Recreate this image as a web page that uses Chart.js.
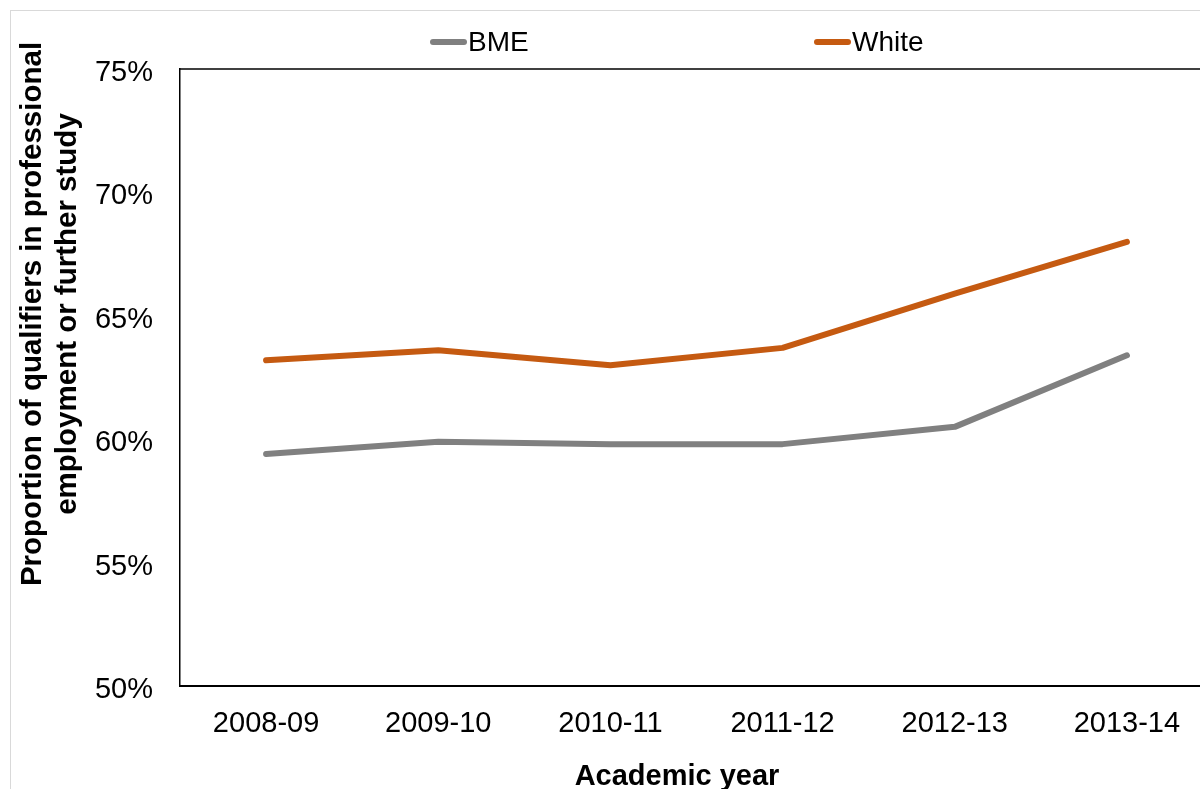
<!DOCTYPE html>
<html>
<head>
<meta charset="utf-8">
<script src="https://cdn.jsdelivr.net/npm/chart.js@4.4.0/dist/chart.umd.min.js"></script>
<style>
  body { margin: 0; overflow: hidden; background: #fff; }
  .frame { position: absolute; left: 10px; top: 10px; width: 1300px; height: 900px; border: 1px solid #d9d9d9; }
  #chart { position: absolute; left: 0; top: 0; }
</style>
</head>
<body>
<div class="frame"></div>
<canvas id="chart" width="1230" height="800"></canvas>
<script>
/*------ DATA ------*/
const years = ["2008-09", "2009-10", "2010-11", "2011-12", "2012-13", "2013-14"];
const bme = [59.4, 59.9, 59.8, 59.8, 60.5, 63.4];
const white = [63.2, 63.6, 63.0, 63.7, 65.9, 68.0];
const yMin = 50;
const yMax = 75;
const yStep = 5;

const FONT = '"Liberation Sans", Arial, sans-serif';

/*------ LEGEND across the top ------*/
const topLegend = {
  id: "topLegend",
  afterDraw(chart) {
    const ctx = chart.ctx;
    ctx.save();
    ctx.font = `28px ${FONT}`;
    ctx.textBaseline = "middle";
    chart.data.datasets.forEach((ds, i) => {
      const x = 430 + i * 384;
      const y = 42;
      ctx.strokeStyle = ds.borderColor;
      ctx.lineWidth = 6;
      ctx.lineCap = "round";
      ctx.beginPath();
      ctx.moveTo(x + 3, y);
      ctx.lineTo(x + 34, y);
      ctx.stroke();
      ctx.fillStyle = "#000";
      ctx.fillText(ds.label, x + 38, y + 1);
    });
    ctx.restore();
  }
};

/*------ axis titles + top edge of plot box ------*/
const frameBits = {
  id: "frameBits",
  beforeDatasetsDraw(chart) {
    const { ctx, chartArea } = chart;
    ctx.save();
    ctx.strokeStyle = "#000";
    ctx.lineWidth = 1.5;
    ctx.beginPath();
    ctx.moveTo(chartArea.left, chartArea.top);
    ctx.lineTo(chartArea.right, chartArea.top);
    ctx.stroke();
    ctx.restore();
  },
  afterDraw(chart) {
    const ctx = chart.ctx;
    ctx.save();
    ctx.fillStyle = "#000";
    ctx.textAlign = "center";
    ctx.textBaseline = "middle";
    ctx.font = `bold 29px ${FONT}`;
    ctx.fillText("Academic year", 677, 777);

    ctx.translate(33, 314);
    ctx.rotate(-Math.PI / 2);
    ctx.font = `bold 29.5px ${FONT}`;
    ctx.fillText("Proportion of qualifiers in professional", 0, 0);
    ctx.fillText("employment or further study", 0, 35);
    ctx.restore();
  }
};

const chart = document.querySelector("#chart").getContext("2d");

new Chart(chart, {
  type: "line",
  data: {
    labels: years,
    datasets: [
      {
        label: "BME",
        data: bme,
        borderColor: "#808080",
        borderWidth: 6,
        borderCapStyle: "round",
        borderJoinStyle: "round",
        pointRadius: 0,
        tension: 0,
      },
      {
        label: "White",
        data: white,
        borderColor: "#c55a11",
        borderWidth: 6,
        borderCapStyle: "round",
        borderJoinStyle: "round",
        pointRadius: 0,
        tension: 0,
      },
    ],
  },
  options: {
    responsive: false,
    animation: false,
    layout: { padding: { top: 69, right: 17, left: 0, bottom: 0 } },
    plugins: {
      legend: { display: false },
      tooltip: { enabled: false },
    },
    scales: {
      x: {
        offset: true,
        grid: { display: false, drawTicks: false },
        border: { display: true, color: "#000", width: 2 },
        ticks: { color: "#000", font: { family: FONT, size: 29 }, padding: 21, maxRotation: 0 },
        afterFit(scale) {
          scale.height = 114;
        },
      },
      y: {
        min: yMin,
        max: yMax,
        grid: { display: false, drawTicks: false },
        border: { display: true, color: "#000", width: 1.5 },
        ticks: {
          stepSize: yStep,
          color: "#000",
          font: { family: FONT, size: 29 },
          padding: 27,
          labelOffset: 4,
          callback: (v) => v + "%",
        },
        afterFit(scale) {
          scale.width = 180;
        },
      },
    },
  },
  plugins: [topLegend, frameBits],
});
</script>
</body>
</html>
